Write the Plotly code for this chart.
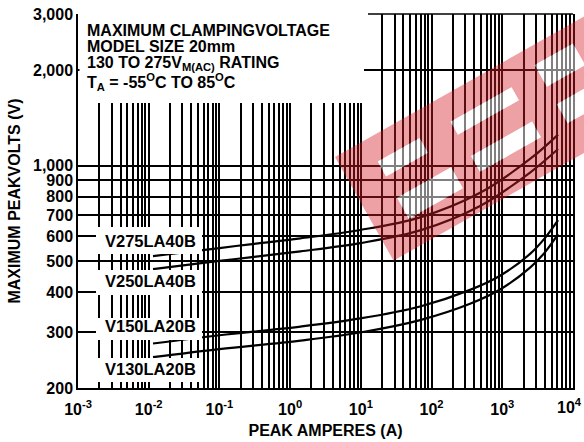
import plotly.graph_objects as go

# ---------------- data ----------------
amps_hi = [0.0115, 0.1, 0.27, 1.4, 9.8, 69, 485, 2470, 6150]
v275la40b = [520, 551, 566, 591, 628, 688, 822, 1050, 1253]
v250la40b = [473, 502, 515, 538, 571, 626, 747, 952, 1129]

amps_lo = [0.0115, 0.1, 1.4, 9.8, 69, 350, 930, 2470, 4030, 6150]
v150la20b = [276, 293, 312, 331, 361, 407, 451, 528, 593, 674]
v130la20b = [250, 265, 282, 299, 327, 368, 408, 478, 535, 609]

series_names = ["V275LA40B", "V250LA40B", "V150LA20B", "V130LA20B"]

x_decades = [-3, -2, -1, 0, 1, 2, 3, 4]
y_ticks = [200, 300, 400, 500, 600, 700, 800, 900, 1000, 2000, 3000]
y_ticktext = ["200", "300", "400", "500", "600", "700", "800", "900", "1,000", "2,000", "3,000"]

title_lines = [
    "MAXIMUM CLAMPINGVOLTAGE",
    "MODEL SIZE 20mm",
    "130 TO 275V<sub>M(AC)</sub> RATING",
    "T<sub>A</sub> = -55<sup>O</sup>C TO 85<sup>O</sup>C",
]

# ---------------- geometry helpers (pixel -> paper) ----------------
W_FIG, H_FIG = 584, 442
PL, PR, PT, PB = 78, 573, 14, 388


def pxx(x):
    return (x - PL) / (PR - PL)


def pxy(y):
    return (PB - y) / (PB - PT)


FONT = "Liberation Sans, Arial, Helvetica, sans-serif"
BOLD16 = dict(family=FONT, size=16, color="black", weight="bold")

# x gridlines at every 1..9 x decade; last decade label placed separately (it sits at the edge)
x_tickvals, x_ticktext = [], []
for d in x_decades:
    for k in range(1, 10):
        if d == 4 and k > 1:
            break
        x_tickvals.append(k * 10.0 ** d)
        x_ticktext.append(f"10<sup>{d}</sup>" if (k == 1 and d < 4) else "")

fig = go.Figure()
for xs, ys, nm in [(amps_hi, v275la40b, series_names[0]), (amps_hi, v250la40b, series_names[1]),
                   (amps_lo, v150la20b, series_names[2]), (amps_lo, v130la20b, series_names[3])]:
    fig.add_trace(go.Scatter(x=xs, y=ys, name=nm, mode="lines",
                             line=dict(color="black", width=2.2, shape="spline", smoothing=1.0),
                             showlegend=False, hoverinfo="x+y+name"))

shapes = []


def wbox(x0, y0, x1, y1):
    shapes.append(dict(type="rect", xref="paper", yref="paper", x0=pxx(x0), x1=pxx(x1),
                       y0=pxy(y1), y1=pxy(y0), fillcolor="white", line=dict(width=0), layer="above"))


wbox(79.5, 10, 364, 103)
for (a, b) in [(227, 254), (270, 295), (318, 340), (358, 382)]:
    wbox(96, a, 202, b)

# top border (right part only)
shapes.append(dict(type="line", xref="paper", yref="paper", x0=pxx(368), x1=1, y0=1, y1=1,
                   line=dict(color="black", width=1.5), layer="above"))

# watermark band with holes
P0 = (335.0, 157.0)
dv = (0.871, -0.4916)
mv = (0.4916, 0.871)
L, WB = 330.0, 119.0


def bp(u, v):
    x = P0[0] + u * dv[0] + v * mv[0]
    y = P0[1] + u * dv[1] + v * mv[1]
    return f"{pxx(x):.4f},{pxy(y):.4f}"


holes = [(35, 25, 83, 42), (34, 66, 96, 90), (118, 26, 188, 41), (119, 66, 189, 84),
         (219, 18, 263, 43), (219, 63, 300, 85)]
path = f"M {bp(0,0)} L {bp(L,0)} L {bp(L,WB)} L {bp(0,WB)} Z"
for (u0, v0, u1, v1) in holes:
    path += f" M {bp(u0,v0)} L {bp(u0,v1)} L {bp(u1,v1)} L {bp(u1,v0)} Z"
shapes.append(dict(type="path", xref="paper", yref="paper", path=path,
                   fillcolor="rgba(215,30,40,0.42)", line=dict(width=0), layer="above"))
for (u0, v0, u1, v1) in holes:
    hp = f"M {bp(u0,v0)} L {bp(u1,v0)} L {bp(u1,v1)} L {bp(u0,v1)} Z"
    shapes.append(dict(type="path", xref="paper", yref="paper", path=hp,
                       fillcolor="rgba(255,255,255,0.5)", line=dict(width=0), layer="above"))

annotations = []
for txt, yc in zip(title_lines, [30.5, 46.2, 63.8, 81.7]):
    annotations.append(dict(text=txt, xref="paper", yref="paper", x=pxx(85), y=pxy(yc),
                            xanchor="left", yanchor="middle", showarrow=False, font=BOLD16))
for txt, yc in zip(series_names, [241, 281, 326, 369]):
    annotations.append(dict(text=txt, xref="paper", yref="paper", x=pxx(103), y=pxy(yc),
                            xanchor="left", yanchor="middle", showarrow=False,
                            font=dict(BOLD16, size=16.5)))
# label of the last decade (kept inside the page like the reference)
annotations.append(dict(text=f"10<sup>{x_decades[-1]}</sup>", xref="paper", yref="paper",
                        x=pxx(584), y=pxy(406), xanchor="right", yanchor="middle",
                        showarrow=False, font=BOLD16))

fig.update_layout(
    width=W_FIG, height=H_FIG,
    margin=dict(l=PL, r=W_FIG - PR, t=PT, b=H_FIG - PB, autoexpand=False),
    paper_bgcolor="white", plot_bgcolor="white",
    font=BOLD16,
    shapes=shapes, annotations=annotations,
    xaxis=dict(type="log", range=[-3, 4], tickvals=x_tickvals, ticktext=x_ticktext,
               showgrid=True, gridcolor="black", gridwidth=1.5, zeroline=False,
               showline=True, linecolor="black", linewidth=1.5, mirror=False,
               ticks="outside", ticklen=6, tickcolor="rgba(0,0,0,0)", automargin=False,
               tickfont=BOLD16,
               title=dict(text="PEAK AMPERES (A)", standoff=8, font=BOLD16)),
    yaxis=dict(type="log", range=[2.30103, 3.4771213], tickvals=y_ticks, ticktext=y_ticktext,
               showgrid=True, gridcolor="black", gridwidth=1.5, zeroline=False,
               showline=True, linecolor="black", linewidth=1.5, mirror=True, automargin=False,
               ticks="", tickfont=BOLD16,
               title=dict(text="MAXIMUM PEAKVOLTS (V)", standoff=8, font=BOLD16)),
)

fig.write_html("out.html", config={"displayModeBar": False},
               post_script="document.body.style.margin='0';document.body.style.padding='0';"
                           "document.documentElement.style.overflow='hidden';")
